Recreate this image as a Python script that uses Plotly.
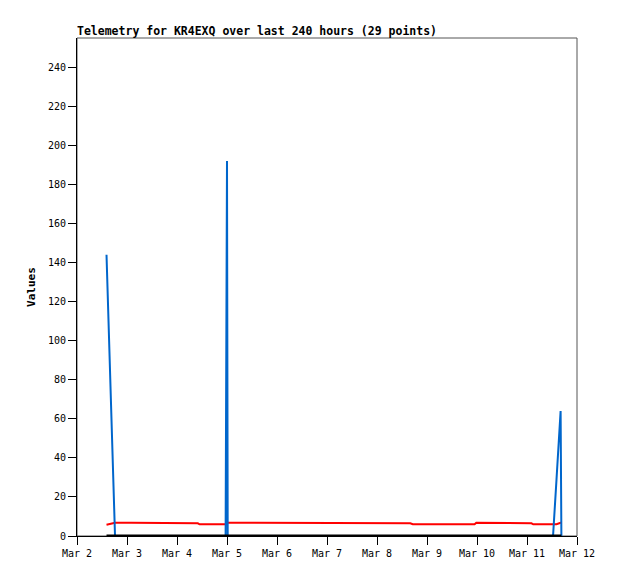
import plotly.graph_objects as go

# ---- data ----
times = [
    "2024-03-02 14:10", "2024-03-02 18:15", "2024-03-03 02:00", "2024-03-03 07:10",
    "2024-03-03 08:00", "2024-03-03 20:00", "2024-03-04 10:00", "2024-03-04 10:50",
    "2024-03-04 23:20", "2024-03-05 00:00", "2024-03-05 00:20", "2024-03-05 14:00",
    "2024-03-06 05:30", "2024-03-06 06:20", "2024-03-07 00:00", "2024-03-07 20:00",
    "2024-03-08 16:00", "2024-03-08 17:10", "2024-03-09 08:00", "2024-03-09 22:50",
    "2024-03-09 23:40", "2024-03-10 08:30", "2024-03-10 09:20", "2024-03-11 02:10",
    "2024-03-11 03:00", "2024-03-11 12:30", "2024-03-11 14:10", "2024-03-11 16:08",
    "2024-03-11 16:30",
]
blue_values = [144, 0, 0, 0, 0, 0, 0, 0, 0, 192, 0, 0, 0, 0, 0, 0, 0, 0, 0, 0,
               0, 0, 0, 0, 0, 0, 29, 64, 0]
red_values = [5.8, 6.8, 6.8, 6.8, 6.5, 6.5, 6.5, 6.0, 6.0, 6.8, 6.8, 6.8, 6.8, 6.5,
              6.5, 6.5, 6.5, 6.0, 6.0, 6.0, 6.8, 6.8, 6.5, 6.5, 6.0, 6.0, 6.0, 6.8, 6.8]
black_values = [0] * 29

x_range = ["2024-03-02 00:00", "2024-03-12 00:00"]
y_ticks = list(range(0, 241, 20))
title_text = "Telemetry for KR4EXQ over last 240 hours (29 points)"
y_title = "Values"

FONT = "DejaVu Sans Mono"
W, H = 602, 563  # page body has an 8px margin

fig = go.Figure()
fig.add_trace(go.Scatter(x=times, y=red_values, mode="lines",
                         line=dict(color="#ff0000", width=2), showlegend=False))
fig.add_trace(go.Scatter(x=times, y=blue_values, mode="lines",
                         line=dict(color="#0066cc", width=2), showlegend=False))
fig.add_trace(go.Scatter(x=times, y=black_values, mode="lines",
                         line=dict(color="#000000", width=3), showlegend=False))

fig.add_shape(type="rect", xref="paper", yref="paper", x0=0, x1=1, y0=0, y1=1,
              line=dict(color="#555555", width=1), layer="below")

fig.update_layout(
    width=W, height=H,
    margin=dict(l=69, r=33, t=30, b=33),
    paper_bgcolor="white", plot_bgcolor="white",
    font=dict(family=FONT, size=10, color="#000000"),
    title=dict(text="<b>" + title_text + "</b>", x=69 / W, xanchor="left",
               y=1 - 23 / H, yanchor="middle",
               font=dict(family=FONT, size=11.5, color="#000000")),
    xaxis=dict(range=x_range, showgrid=False, zeroline=False,
               showline=True, linecolor="#000000", linewidth=1,
               ticks="outside", ticklen=8, tickcolor="#000000",
               dtick=86400000, tick0="2024-03-02", tickformat="%b %-d",
               tickfont=dict(family=FONT, size=10)),
    yaxis=dict(range=[0, 255], showgrid=False, zeroline=False,
               showline=True, linecolor="#000000", linewidth=1,
               ticks="outside", ticklen=8, tickcolor="#000000",
               tickvals=y_ticks,
               tickfont=dict(family=FONT, size=10),
               title=dict(text="<b>" + y_title + "</b>",
                          font=dict(family=FONT, size=11), standoff=10)),
)

fig.write_html("out.html")
